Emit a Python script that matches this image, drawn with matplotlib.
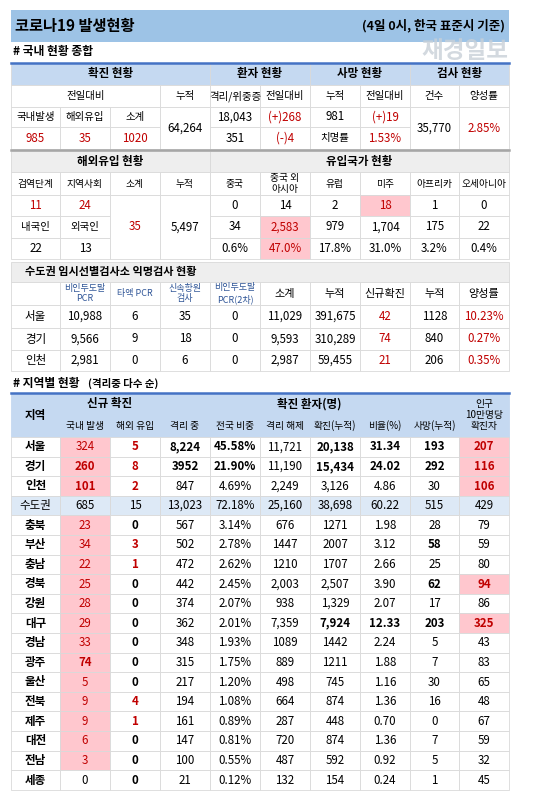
import matplotlib
matplotlib.use("Agg")
import matplotlib.pyplot as plt
from matplotlib.patches import Rectangle

plt.rcParams['font.family'] = ['Noto Sans CJK KR', 'DejaVu Sans']

# ---------------- data ----------------
title = "코로나19 발생현황"
basis = "(4일 0시, 한국 표준시 기준)"

summary_heads = ["확진 현황", "환자 현황", "사망 현황", "검사 현황"]
summary_sub = ["전일대비", "누적", "격리/위중증", "전일대비", "누적", "전일대비", "건수", "양성률"]
conf_labels = ["국내발생", "해외유입", "소계"]
conf_values = ["985", "35", "1020"]
conf_total = "64,264"
patients = ["18,043", "(+)268", "351", "(-)4"]
deaths = ["981", "(+)19", "치명률", "1.53%"]
tests = ["35,770", "2.85%"]

import_labels = ["검역단계", "지역사회", "소계", "누적"]
import_row1 = ["11", "24"]
import_row2 = ["내국인", "외국인"]
import_row3 = ["22", "13"]
import_sub = "35"
import_total = "5,497"
origin_labels = ["중국", "중국 외\n아시아", "유럽", "미주", "아프리카", "오세아니아"]
origin_new = ["0", "14", "2", "18", "1", "0"]
origin_cum = ["34", "2,583", "979", "1,704", "175", "22"]
origin_pct = ["0.6%", "47.0%", "17.8%", "31.0%", "3.2%", "0.4%"]

test_heads = ["비인두도말\nPCR", "타액 PCR", "신속항원\n검사", "비인두도말\nPCR(2차)", "소계", "누적", "신규확진", "누적", "양성률"]
test_regions = ["서울", "경기", "인천"]
test_rows = [
    ["10,988", "6", "35", "0", "11,029", "391,675", "42", "1128", "10.23%"],
    ["9,566", "9", "18", "0", "9,593", "310,289", "74", "840", "0.27%"],
    ["2,981", "0", "6", "0", "2,987", "59,455", "21", "206", "0.35%"],
]

reg_heads = ["국내 발생", "해외 유입", "격리 중", "전국 비중", "격리 해제", "확진(누적)", "비율(%)", "사망(누적)"]
regions = ["서울", "경기", "인천", "수도권", "충북", "부산", "충남", "경북", "강원", "대구",
           "경남", "광주", "울산", "전북", "제주", "대전", "전남", "세종"]
domestic = ["324", "260", "101", "685", "23", "34", "22", "25", "28", "29", "33", "74", "5", "9", "9", "6", "3", "0"]
overseas = ["5", "8", "2", "15", "0", "3", "1", "0", "0", "0", "0", "0", "0", "4", "1", "0", "0", "0"]
isolated = ["8,224", "3952", "847", "13,023", "567", "502", "472", "442", "374", "362", "348", "315", "217", "194", "161", "147", "100", "21"]
share = ["45.58%", "21.90%", "4.69%", "72.18%", "3.14%", "2.78%", "2.62%", "2.45%", "2.07%", "2.01%", "1.93%", "1.75%", "1.20%", "1.08%", "0.89%", "0.81%", "0.55%", "0.12%"]
released = ["11,721", "11,190", "2,249", "25,160", "676", "1447", "1210", "2,003", "938", "7,359", "1089", "889", "498", "664", "287", "720", "487", "132"]
cumulative = ["20,138", "15,434", "3,126", "38,698", "1271", "2007", "1707", "2,507", "1,329", "7,924", "1442", "1211", "745", "874", "448", "874", "592", "154"]
ratio = ["31.34", "24.02", "4.86", "60.22", "1.98", "3.12", "2.66", "3.90", "2.07", "12.33", "2.24", "1.88", "1.16", "1.36", "0.70", "1.36", "0.92", "0.24"]
dead = ["193", "292", "30", "515", "28", "58", "25", "62", "17", "203", "5", "7", "30", "16", "0", "7", "5", "1"]
per100k = ["207", "116", "106", "429", "79", "59", "80", "94", "86", "325", "43", "83", "65", "48", "67", "59", "32", "45"]

# ---------------- style ----------------
RED = "#c00000"
PINK = "#ffc7ce"
HBLUE = "#c5d9f1"
TBLUE = "#9dc3e6"
GRAY = "#eeeeee"
GRID = "#d9d9d9"
LBLUE = "#dde9f6"
FS = 8.3

fig = plt.figure(figsize=(5.48, 8.01), dpi=100)
ax = fig.add_axes([0, 0, 1, 1])
ax.set_xlim(0, 548)
ax.set_ylim(801, 0)
ax.axis("off")

X = [11, 60, 110, 160, 210, 260, 310, 360, 410, 459, 509]


def cell(c0, c1, y0, y1, text="", bg="white", color="black", bold=False, size=FS, edge=GRID, ls=1.0):
    x0, x1 = X[c0], X[c1]
    ax.add_patch(Rectangle((x0, y0), x1 - x0, y1 - y0, facecolor=bg, edgecolor=edge, lw=0.6))
    if text:
        ax.text((x0 + x1) / 2, (y0 + y1) / 2, text, ha="center", va="center", color=color,
                fontsize=size, fontweight="bold" if bold else "normal", linespacing=ls)


# title
ax.add_patch(Rectangle((11, 10), 498, 32, facecolor=TBLUE, edgecolor="none"))
ax.text(15, 26, title, fontsize=11, fontweight="bold", va="center")
ax.text(505, 26, basis, fontsize=9, fontweight="bold", va="center", ha="right")
ax.text(465, 51, "재경일보", fontsize=17, fontweight="bold", color="#c8d0d8", va="center", ha="center",
        alpha=0.8, zorder=10)
ax.text(13, 52, "# 국내 현황 종합", fontsize=8.5, fontweight="bold", va="center")

# ---- summary ----
r = [63, 85, 107, 127, 149]
for (c0, c1), h in zip([(0, 4), (4, 6), (6, 8), (8, 10)], summary_heads):
    cell(c0, c1, r[0], r[1], h, bg=HBLUE, bold=True)
for (c0, c1), h in zip([(0, 3), (3, 4), (4, 5), (5, 6), (6, 7), (7, 8), (8, 9), (9, 10)], summary_sub):
    cell(c0, c1, r[1], r[2], h, size=7.5)
for i in range(3):
    cell(i, i + 1, r[2], r[3], conf_labels[i], size=7.5)
    cell(i, i + 1, r[3], r[4], conf_values[i], color=RED)
cell(3, 4, r[2], r[4], conf_total)
cell(4, 5, r[2], r[3], patients[0]); cell(5, 6, r[2], r[3], patients[1], color=RED)
cell(4, 5, r[3], r[4], patients[2]); cell(5, 6, r[3], r[4], patients[3], color=RED)
cell(6, 7, r[2], r[3], deaths[0]); cell(7, 8, r[2], r[3], deaths[1], color=RED)
cell(6, 7, r[3], r[4], deaths[2], size=7.5); cell(7, 8, r[3], r[4], deaths[3], color=RED)
cell(8, 9, r[2], r[4], tests[0]); cell(9, 10, r[2], r[4], tests[1], color=RED)
ax.plot([11, 509], [62.5, 62.5], color="#4472c4", lw=1.8)
ax.plot([11, 509], [150, 150], color="#a6a6a6", lw=1.8)

# ---- imports ----
r = [151, 172, 195, 216, 238, 259]
cell(0, 4, r[0], r[1], "해외유입 현황", bg=GRAY, bold=True)
cell(4, 10, r[0], r[1], "유입국가 현황", bg=GRAY, bold=True)
for i, h in enumerate(import_labels):
    cell(i, i + 1, r[1], r[2], h, size=7)
for i, h in enumerate(origin_labels):
    cell(4 + i, 5 + i, r[1], r[2], h, size=7, ls=1.2)
for i in range(2):
    cell(i, i + 1, r[2], r[3], import_row1[i], color=RED)
    cell(i, i + 1, r[3], r[4], import_row2[i], size=7.5)
    cell(i, i + 1, r[4], r[5], import_row3[i])
cell(2, 3, r[2], r[5], import_sub, color=RED)
cell(3, 4, r[2], r[5], import_total)
for i in range(6):
    hi = i == 1
    cell(4 + i, 5 + i, r[2], r[3], origin_new[i], bg=PINK if i == 3 else "white", color=RED if i == 3 else "black")
    cell(4 + i, 5 + i, r[3], r[4], origin_cum[i], bg=PINK if hi else "white", color=RED if hi else "black")
    cell(4 + i, 5 + i, r[4], r[5], origin_pct[i], bg=PINK if hi else "white", color=RED if hi else "black")

# ---- anonymous tests ----
r = [262, 282, 305, 328, 350, 371]
ax.add_patch(Rectangle((11, r[0]), 498, r[1] - r[0], facecolor=GRAY, edgecolor=GRID, lw=0.6))
ax.text(25, (r[0] + r[1]) / 2, "수도권 임시선별검사소 익명검사 현황", fontsize=8, fontweight="bold", va="center")
cell(0, 1, r[1], r[2])
for i, h in enumerate(test_heads):
    small = i < 4
    cell(1 + i, 2 + i, r[1], r[2], h, size=6.5 if small else 8,
         color="#2f5597" if small else "black", ls=1.25)
for j, reg in enumerate(test_regions):
    cell(0, 1, r[2 + j], r[3 + j], reg)
    for i, v in enumerate(test_rows[j]):
        cell(1 + i, 2 + i, r[2 + j], r[3 + j], v, color=RED if i in (6, 8) else "black")

# ---- regional ----
ax.text(13, 383, "# 지역별 현황", fontsize=8.5, fontweight="bold", va="center")
ax.text(88, 383, "(격리중 다수 순)", fontsize=7.5, fontweight="bold", va="center")
h0, h1, h2 = 393, 415, 437
cell(0, 1, h0, h2, "지역", bg=HBLUE, bold=True, edge=HBLUE)
cell(1, 3, h0, h1, "신규 확진", bg=HBLUE, bold=True, edge=HBLUE)
cell(3, 9, h0, h1, "확진 환자(명)", bg=HBLUE, bold=True, edge=HBLUE)
cell(9, 10, h0, h2, "인구\n10만명당\n확진자", bg=HBLUE, size=7, edge=HBLUE, ls=1.15)
for i, h in enumerate(reg_heads):
    cell(1 + i, 2 + i, h1, h2, h, bg=HBLUE, size=7, edge=HBLUE)
ax.plot([11, 509], [393, 393], color="#4472c4", lw=1.8)

step = 19.6
cols = [domestic, overseas, isolated, share, released, cumulative, ratio, dead, per100k]
bold_cells = {(0, 2), (0, 3), (0, 5), (0, 6), (0, 7), (1, 2), (1, 3), (1, 5), (1, 6), (1, 7),
              (5, 7), (7, 7), (9, 5), (9, 6), (9, 7)}
for k, reg in enumerate(regions):
    y0 = h2 + k * step
    y1 = y0 + step
    metro = reg == "수도권"
    cell(0, 1, y0, y1, reg, bg=LBLUE if metro else "white", bold=not metro)
    for i, col in enumerate(cols):
        v = col[k]
        bg = LBLUE if metro else "white"
        color = "black"
        bold = (k, i) in bold_cells
        if not metro:
            if i == 0 and v != "0":
                bg, color = PINK, RED
                bold = reg in ("경기", "인천", "광주")
            if i == 1:
                bold = True
                if v != "0":
                    color = RED
            if i == 8 and reg in ("서울", "경기", "인천", "경북", "대구"):
                bg, color, bold = PINK, RED, True
        cell(1 + i, 2 + i, y0, y1, v, bg=bg, color=color, bold=bold)

fig.savefig("out.png", dpi=100)
